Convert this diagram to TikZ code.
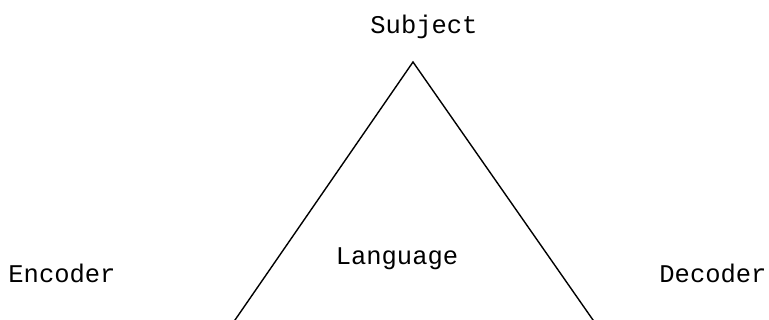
\documentclass[tikz,border=0pt]{standalone}
\usepackage{fontspec}
\setmonofont{Liberation Mono}
\usetikzlibrary{calc}
\begin{document}
\begin{tikzpicture}[x=1pt,y=-1pt,
  lbl/.style={font=\ttfamily\fontsize{25.5}{30}\selectfont, inner sep=0pt, anchor=base},
  edge/.style={draw=black, line width=1.4pt}]
\useasboundingbox (0,0) rectangle (769,320);
\clip (0,0) rectangle (769,320);
\node[lbl] (subject) at (424,33.5) {Subject};
\node[lbl] (language) at (397,265) {Language};
\node[lbl] (encoder) at (62,283) {Encoder};
\node[lbl] (decoder) at (713,283) {Decoder};
\coordinate (apex) at (413,62);
\coordinate (bl) at ($(apex)!1.1!(235,320)$);
\coordinate (br) at ($(apex)!1.1!(593,320)$);
\draw[edge, line join=miter] (bl) -- (apex) -- (br);
\end{tikzpicture}
\end{document}
